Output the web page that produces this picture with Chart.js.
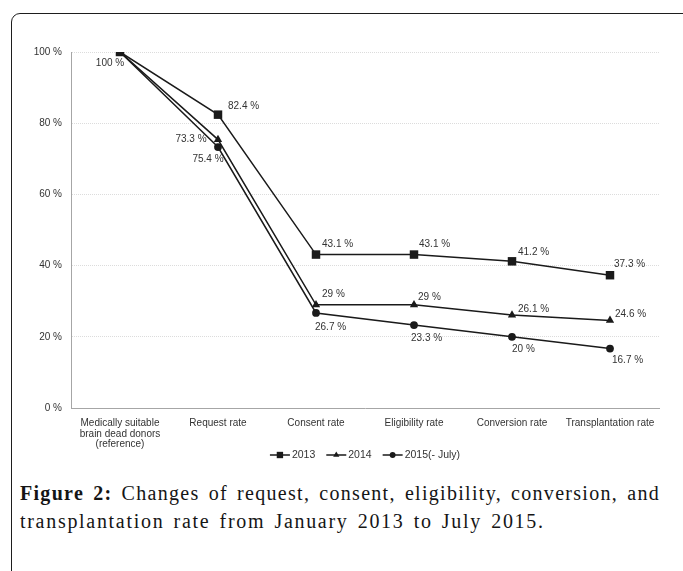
<!DOCTYPE html>
<html>
<head>
<meta charset="utf-8">
<script src="https://cdn.jsdelivr.net/npm/chart.js@4/dist/chart.umd.min.js"></script>
<style>
  html, body { margin: 0; padding: 0; background: #fff; overflow: hidden; }
  #frame {
    position: absolute; left: 11px; top: 13px; width: 720px; height: 620px;
    border: 1.5px solid #1e1e1e; border-radius: 9px; box-sizing: border-box;
  }
  #wrap { position: absolute; left: 0; top: 0; width: 683px; height: 470px; }
  #caption {
    position: absolute; left: 20px; top: 479px; width: 640px;
    font-family: "Liberation Serif", serif; font-size: 20px; line-height: 28px;
    color: #151515;
  }
  #caption .l1 { text-align: justify; text-align-last: justify; letter-spacing: 1.3px; }
  #caption .l2 { text-align: left; letter-spacing: 1.7px; word-spacing: 2.5px; }
  #caption b { font-weight: bold; }
</style>
</head>
<body>
<div id="frame"></div>
<div id="wrap"><canvas id="c"></canvas></div>
<div id="caption">
  <div class="l1"><b>Figure 2:</b> Changes of request, consent, eligibility, conversion, and</div>
  <div class="l2">transplantation rate from January 2013 to July 2015.</div>
</div>

<script>
// Stages of the donation process
const categories = [
  ["Medically suitable", "brain dead donors", "(reference)"],
  "Request rate", "Consent rate", "Eligibility rate", "Conversion rate", "Transplantation rate"
];

// Rates per year (%)
const rates2013 = [100, 82.4, 43.1, 43.1, 41.2, 37.3];
const rates2014 = [100, 75.4, 29, 29, 26.1, 24.6];
const rates2015 = [100, 73.3, 26.7, 23.3, 20, 16.7];

const seriesNames = ["2013", "2014", "2015(- July)"];
const yTickValues = [0, 20, 40, 60, 80, 100];

const TEXT = '#333';
const LINE = '#1a1a1a';
const FONT = '"Liberation Sans", Arial, sans-serif';

// Where each value label sits relative to its point: [dx, dy, align]; null = no label
const labelPlacement = [
  [[-10, 11, 'center'], [10, -8, 'left'], [6, -10, 'left'], [5, -10, 'left'], [6, -9, 'left'], [4, -11, 'left']],
  [null, [-10, 20, 'center'], [6, -11, 'left'], [4, -8, 'left'], [6, -6, 'left'], [5, -6, 'left']],
  [null, [-27, -8, 'center'], [-1, 14, 'left'], [-3, 13, 'left'], [0, 12, 'left'], [2, 12, 'left']]
];

const valueLabels = {
  id: 'valueLabels',
  afterDatasetsDraw(chart) {
    const ctx = chart.ctx;
    ctx.save();
    ctx.font = '10px ' + FONT;
    ctx.fillStyle = TEXT;
    ctx.textBaseline = 'middle';
    chart.data.datasets.forEach((ds, di) => {
      const meta = chart.getDatasetMeta(di);
      meta.data.forEach((pt, i) => {
        const p = labelPlacement[di][i];
        if (!p) return;
        ctx.textAlign = p[2];
        ctx.fillText(ds.data[i] + ' %', pt.x + p[0], pt.y + p[1]);
      });
    });
    ctx.restore();
  }
};

// Legend drawn as line + marker + name, centred under the plot
const lineLegend = {
  id: 'lineLegend',
  afterDraw(chart) {
    const ctx = chart.ctx;
    const area = chart.chartArea;
    const y = 455;
    const seg = 20, gap = 2, spacing = 11;
    ctx.save();
    ctx.font = '10.5px ' + FONT;
    const widths = chart.data.datasets.map(ds => seg + gap + ctx.measureText(ds.label).width);
    const total = widths.reduce((a, b) => a + b, 0) + spacing * (widths.length - 1);
    let x = (area.left + area.right) / 2 - total / 2;
    chart.data.datasets.forEach((ds, i) => {
      ctx.strokeStyle = LINE;
      ctx.lineWidth = 1.5;
      ctx.beginPath();
      ctx.moveTo(x, y);
      ctx.lineTo(x + seg, y);
      ctx.stroke();
      ctx.fillStyle = LINE;
      Chart.helpers.drawPoint(ctx, {
        pointStyle: ds.pointStyle, radius: ds.pointRadius * 0.75, rotation: 0, borderWidth: 0
      }, x + seg / 2, y);
      ctx.fillStyle = TEXT;
      ctx.textAlign = 'left';
      ctx.textBaseline = 'middle';
      ctx.fillText(ds.label, x + seg + gap, y + 0.5);
      x += widths[i] + spacing;
    });
    ctx.restore();
  }
};

function series(label, data, style, radius) {
  return {
    label, data,
    borderColor: LINE, backgroundColor: LINE, borderWidth: 1.5,
    pointStyle: style, pointRadius: radius, pointHoverRadius: radius,
    pointBackgroundColor: LINE, pointBorderColor: LINE, pointBorderWidth: 0,
    tension: 0, fill: false
  };
}

new Chart(document.getElementById('c'), {
  type: 'line',
  data: {
    labels: categories,
    datasets: [
      series(seriesNames[0], rates2013, 'rect', 6),
      series(seriesNames[1], rates2014, 'triangle', 4.8),
      series(seriesNames[2], rates2015, 'circle', 3.9)
    ]
  },
  options: {
    responsive: true,
    maintainAspectRatio: false,
    animation: false,
    layout: { padding: { top: 52, right: 24, left: 0, bottom: 0 } },
    plugins: { legend: { display: false }, tooltip: { enabled: false } },
    scales: {
      x: {
        offset: true,
        grid: { display: false },
        border: { display: true, color: '#a6a6a6', width: 1 },
        ticks: {
          autoSkip: false, maxRotation: 0, minRotation: 0, padding: 2,
          color: TEXT, font: { family: FONT, size: 10, lineHeight: 1.05 }
        },
        afterFit(scale) { scale.height = 62; }
      },
      y: {
        min: 0, max: 100,
        afterBuildTicks(scale) { scale.ticks = yTickValues.map(v => ({ value: v })); },
        grid: { color: '#dcdcdc', lineWidth: 1, drawTicks: false },
        border: { display: true, color: '#a6a6a6', width: 1, dash: [1, 1] },
        ticks: {
          padding: 9, color: TEXT, font: { family: FONT, size: 10 },
          callback: v => v + ' %'
        },
        afterFit(scale) { scale.width = 71; }
      }
    }
  },
  plugins: [valueLabels, lineLegend]
});
</script>
</body>
</html>
